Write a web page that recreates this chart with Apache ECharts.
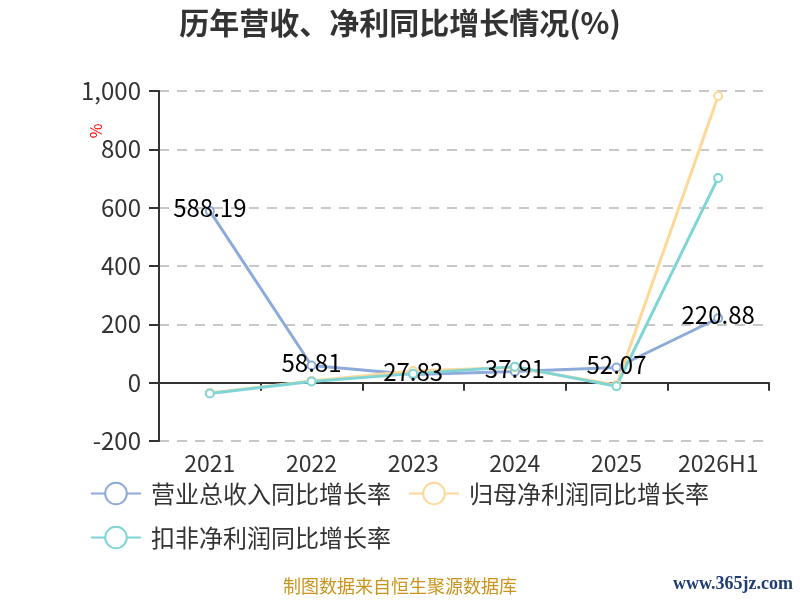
<!DOCTYPE html>
<html lang="zh">
<head>
    <meta charset="UTF-8">
    <title>历年营收、净利同比增长情况</title>
    <script src="https://cdn.jsdelivr.net/npm/echarts@6/dist/echarts.min.js"></script>
    <style>
        html, body { margin: 0; padding: 0; background: #fff; }
    </style>
</head>
<body>
    <div id="main" style="width: 800px;height:600px;"></div>
    <script type="text/javascript">
        // 数据
        var categories = ['2021', '2022', '2023', '2024', '2025', '2026H1'];
        var revenueGrowth = [588.19, 58.81, 27.83, 37.91, 52.07, 220.88];
        var netProfitGrowth = [-35, 6, 40, 52, -8, 983];
        var deductedProfitGrowth = [-37, 4, 31, 55, -12, 702];
        var seriesNames = ['营业总收入同比增长率', '归母净利润同比增长率', '扣非净利润同比增长率'];
        var colors = ['#8eaadb', '#ffd899', '#7fd5d6'];

        var font = '"Noto Sans CJK SC", "Noto Sans", sans-serif';
        var myChart = echarts.init(document.getElementById('main'));

        function lineSeries(name, data, color, showLabel) {
            return {
                name: name,
                type: 'line',
                data: data,
                symbol: 'emptyCircle',
                symbolSize: 8,
                lineStyle: { width: 3, color: color },
                itemStyle: { color: color, borderWidth: 2 },
                label: {
                    show: showLabel,
                    position: 'inside',
                    offset: [0, -3],
                    color: '#000',
                    fontSize: 24,
                    fontFamily: font
                }
            };
        }

        var option = {
            color: colors,
            textStyle: { fontFamily: font },
            title: {
                text: '历年营收、净利同比增长情况(%)',
                left: 'center',
                top: 3,
                textStyle: { fontSize: 30, fontWeight: 'bold', color: '#333', fontFamily: font }
            },
            legend: {
                data: seriesNames,
                left: 85,
                top: 475,
                width: 650,
                itemWidth: 50,
                itemHeight: 27,
                itemGap: 17,
                textStyle: { fontSize: 24, color: '#333', lineHeight: 27, padding: [0, 0, 0, 5], fontFamily: font }
            },
            grid: {
                left: 159,
                right: 31,
                top: 91,
                bottom: 159
            },
            xAxis: [
                {
                    type: 'category',
                    data: categories,
                    axisLine: { onZero: true, lineStyle: { color: '#333', width: 2 } },
                    axisTick: { show: true, length: 8, lineStyle: { width: 2 } },
                    axisLabel: { show: false }
                },
                {
                    type: 'category',
                    data: categories,
                    position: 'bottom',
                    axisLine: { show: false },
                    axisTick: { show: false },
                    axisLabel: { interval: 0, fontSize: 23, color: '#333', margin: 11, fontFamily: font }
                }
            ],
            yAxis: {
                type: 'value',
                min: -200,
                max: 1000,
                interval: 200,
                axisLine: { show: true, lineStyle: { color: '#333', width: 2 } },
                axisTick: { show: true, length: 10, lineStyle: { width: 2 } },
                axisLabel: { fontSize: 24, color: '#333', margin: 18, fontFamily: font },
                splitLine: { lineStyle: { type: [10, 8], color: '#c8c8c8', width: 2 } }
            },
            graphic: [
                {
                    type: 'text',
                    x: 96,
                    y: 131,
                    rotation: Math.PI / 2,
                    style: { text: '%', fill: '#ff0000', fontSize: 16, align: 'center', verticalAlign: 'middle', fontFamily: font }
                },
                {
                    type: 'text',
                    left: 'center',
                    top: 577,
                    style: { text: '制图数据来自恒生聚源数据库', fill: '#c8941e', fontSize: 18, fontFamily: font }
                },
                {
                    type: 'text',
                    right: 7,
                    top: 575,
                    style: { text: 'www.365jz.com', fill: '#1f3c73', fontSize: 18, fontWeight: 'bold', fontFamily: '"Liberation Serif", serif' }
                }
            ],
            series: [
                lineSeries(seriesNames[0], revenueGrowth, colors[0], true),
                lineSeries(seriesNames[1], netProfitGrowth, colors[1], false),
                lineSeries(seriesNames[2], deductedProfitGrowth, colors[2], false)
            ]
        };

        myChart.setOption(option);
    </script>
</body>
</html>
